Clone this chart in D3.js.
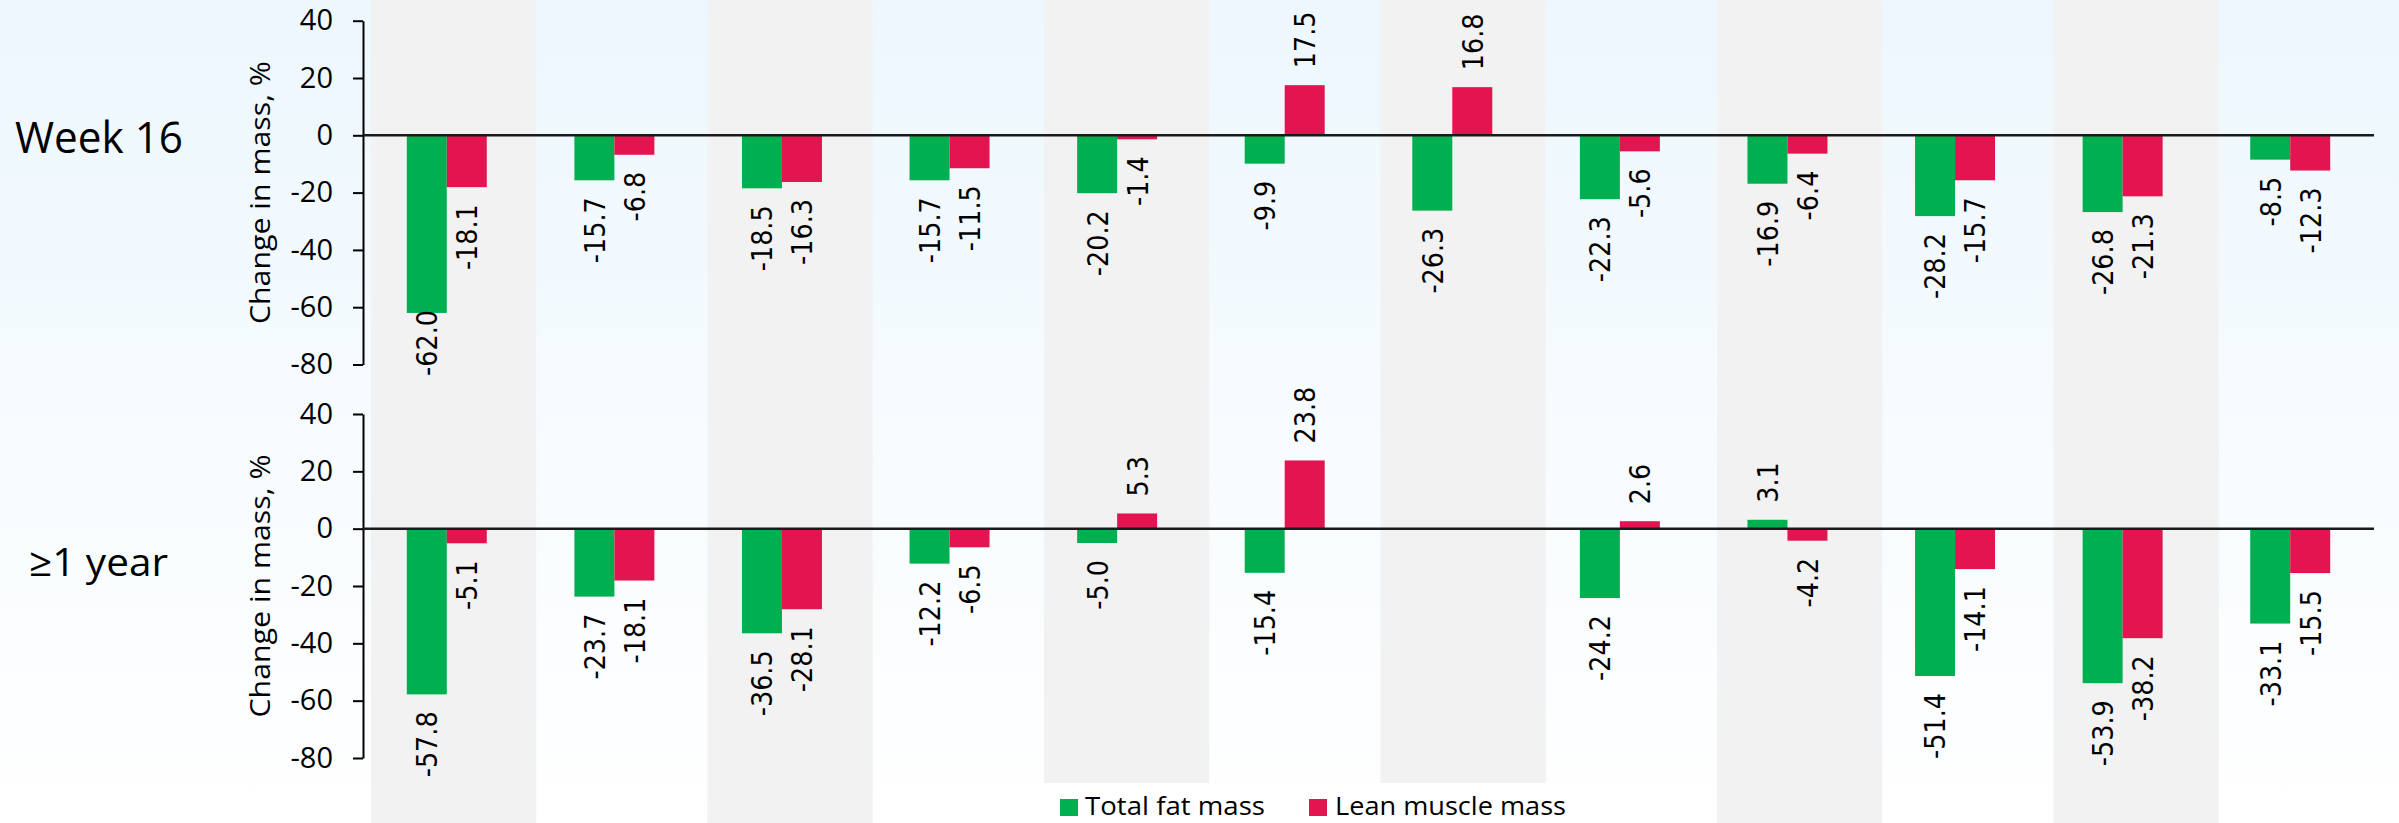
<!DOCTYPE html>
<html>
<head>
<meta charset="utf-8">
<script src="https://cdn.jsdelivr.net/npm/d3@7"></script>
<style>
  html, body { margin: 0; padding: 0; background: #ffffff; }
  svg { display: block; }
</style>
</head>
<body>
<svg id="chart" width="2399" height="823"></svg>
<script>
// ---- data ----
const categories = ["1", "2", "3", "4", "5", "6", "7", "8", "9", "10", "11", "12"];
const seriesNames = ["Total fat mass", "Lean muscle mass"];
const panelNames = ["Week 16", "\u22651 year"];

const week16Fat  = [-62.0, -15.7, -18.5, -15.7, -20.2, -9.9, -26.3, -22.3, -16.9, -28.2, -26.8, -8.5];
const week16Lean = [-18.1, -6.8, -16.3, -11.5, -1.4, 17.5, 16.8, -5.6, -6.4, -15.7, -21.3, -12.3];
const year1Fat   = [-57.8, -23.7, -36.5, -12.2, -5.0, -15.4, null, -24.2, 3.1, -51.4, -53.9, -33.1];
const year1Lean  = [-5.1, -18.1, -28.1, -6.5, 5.3, 23.8, null, 2.6, -4.2, -14.1, -38.2, -15.5];

const yTicks = [40, 20, 0, -20, -40, -60, -80];
const yDomain = [-80, 40];
const yTitle = "Change in mass, %";

// ---- styling / layout ----
const W = 2399, H = 823;
const colors = { "Total fat mass": "#00b050", "Lean muscle mass": "#e31450" };
const axisX = 363, plotRight = 2374;
const panels = [
  { name: panelNames[0], top: 20.7, bottom: 364.5, labelLimit: 376, fat: week16Fat, lean: week16Lean,
    nameX: 15, nameBase: 153, nameSize: 44, nameLen: 168 },
  { name: panelNames[1], top: 414, bottom: 758, labelLimit: 823, fat: year1Fat, lean: year1Lean,
    nameX: 29, nameBase: 576, nameSize: 39, nameLen: 139 }
];

// plain hyphen-minus for negative numbers
const fmtValue = v => v.toFixed(1);
const fmtTick = v => String(v);

const svg = d3.select("#chart");
const defs = svg.append("defs");

// soft blue wash fading to white
const grad = defs.append("linearGradient").attr("id", "bg").attr("x1", 0).attr("y1", 0).attr("x2", 0).attr("y2", 1);
[[0, "#edf7fd"], [0.25, "#f1f9fe"], [0.6, "#f8fcfe"], [0.9, "#fdfeff"], [1, "#ffffff"]]
  .forEach(([o, c]) => grad.append("stop").attr("offset", o).attr("stop-color", c));
svg.append("rect").attr("width", W).attr("height", H).attr("fill", "url(#bg)");

// alternating column shading behind the bars
const cellX = d3.scaleBand().domain(categories).range([371, 2390]);
svg.append("g").selectAll("rect")
  .data(categories.filter((d, i) => i % 2 === 0))
  .join("rect")
  .attr("x", d => cellX(d))
  .attr("y", 0)
  .attr("width", cellX.bandwidth() - 3)
  .attr("height", H)
  .attr("fill", "#f2f2f2");

// category and series scales
const x = d3.scaleBand().domain(categories).range([axisX, plotRight]).paddingInner(0.5227).paddingOuter(0.26135);
const x1 = d3.scaleBand().domain(seriesNames).range([0, x.bandwidth()]);

panels.forEach(p => {
  const y = d3.scaleLinear().domain(yDomain).range([p.bottom, p.top]);
  const g = svg.append("g");

  // panel name
  g.append("text")
    .attr("x", p.nameX).attr("y", p.nameBase)
    .attr("font-family", "'Open Sans', sans-serif")
    .attr("font-size", p.nameSize)
    .attr("textLength", p.nameLen).attr("lengthAdjust", "spacingAndGlyphs")
    .attr("fill", "#000")
    .text(p.name);

  // y axis title
  g.append("text")
    .attr("transform", `translate(270,${(p.top + p.bottom) / 2}) rotate(-90)`)
    .attr("text-anchor", "middle")
    .attr("font-family", "'Open Sans', sans-serif")
    .attr("font-size", 28)
    .attr("textLength", 263).attr("lengthAdjust", "spacingAndGlyphs")
    .attr("fill", "#000")
    .text(yTitle);

  // y axis
  const ax = g.append("g")
    .attr("transform", `translate(${axisX},0)`)
    .call(d3.axisLeft(y).tickValues(yTicks).tickFormat(fmtTick).tickSize(10).tickSizeOuter(0).tickPadding(20));
  ax.select(".domain").attr("stroke", "#000").attr("stroke-width", 2);
  ax.selectAll(".tick line").attr("stroke", "#000").attr("stroke-width", 2);
  ax.selectAll(".tick text")
    .attr("font-family", "'Open Sans', sans-serif")
    .attr("font-size", 29)
    .attr("fill", "#000");

  // bars
  const rows = [];
  categories.forEach((c, i) => {
    [["Total fat mass", p.fat[i]], ["Lean muscle mass", p.lean[i]]].forEach(([s, v]) => {
      if (v !== null) rows.push({ c, s, v });
    });
  });

  g.append("g").selectAll("rect")
    .data(rows)
    .join("rect")
    .attr("x", d => x(d.c) + x1(d.s))
    .attr("y", d => Math.min(y(d.v), y(0)))
    .attr("width", x1.bandwidth())
    .attr("height", d => Math.abs(y(d.v) - y(0)))
    .attr("fill", d => colors[d.s]);

  // zero line
  g.append("line")
    .attr("x1", axisX).attr("x2", plotRight)
    .attr("y1", y(0)).attr("y2", y(0))
    .attr("stroke", "#1a1a1a").attr("stroke-width", 2.5);

  // value labels, rotated, outside the bar end
  const gap = 17;
  const labels = g.append("g").selectAll("text")
    .data(rows)
    .join("text")
    .attr("font-family", "'DejaVu Sans', sans-serif")
    .attr("font-size", 25.5)
    .attr("fill", "#000")
    .attr("dy", "0.365em")
    .attr("text-anchor", d => d.v >= 0 ? "start" : "end")
    .text(d => fmtValue(d.v));

  labels.each(function(d) {
    const len = this.getComputedTextLength();
    const cx = x(d.c) + x1(d.s) + x1.bandwidth() / 2;
    let py;
    if (d.v >= 0) {
      py = y(d.v) - gap;
    } else {
      py = y(d.v) + gap;
      if (py + len > p.labelLimit) py = p.labelLimit - len;
    }
    d3.select(this).attr("transform", `translate(${cx},${py}) rotate(-90) scale(1,1.12)`);
  });
});

// legend
const legend = svg.append("g");
legend.append("rect").attr("x", 1035).attr("y", 783).attr("width", 540).attr("height", 40).attr("fill", "#ffffff");
const legendItems = [
  { s: "Total fat mass", sx: 1060, tx: 1085, len: 180 },
  { s: "Lean muscle mass", sx: 1309, tx: 1335, len: 231 }
];
legendItems.forEach(it => {
  legend.append("rect").attr("x", it.sx).attr("y", 799).attr("width", 18).attr("height", 17).attr("fill", colors[it.s]);
  legend.append("text")
    .attr("x", it.tx).attr("y", 815)
    .attr("font-family", "'Open Sans', sans-serif")
    .attr("font-size", 26)
    .attr("textLength", it.len).attr("lengthAdjust", "spacingAndGlyphs")
    .attr("fill", "#000")
    .text(it.s);
});
</script>
</body>
</html>
